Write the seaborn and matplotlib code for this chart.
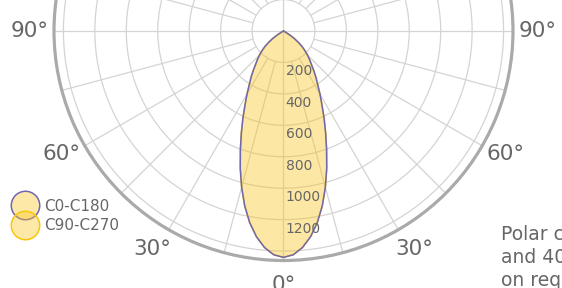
import numpy as np
import pandas as pd
import matplotlib
matplotlib.use("Agg")
import matplotlib.pyplot as plt
from matplotlib.lines import Line2D
import seaborn as sns

# ========== Data ==========
# gamma angle (deg from nadir) and luminous intensity (cd)
gamma = [0, 2.5, 5, 7.5, 10, 12.5, 15, 17.5, 20, 22.5, 25, 27.5, 30, 32.5, 35, 37.5,
         40, 42.5, 45, 47.5, 50, 52.5, 55, 57.5, 60, 62.5, 65, 70, 75, 80, 85, 90]
c0_c180 = [1440, 1425, 1383, 1320, 1238, 1140, 1029, 915, 802, 700, 611, 530, 465, 405,
           360, 315, 275, 245, 215, 185, 155, 120, 85, 50, 15, 0, 0, 0, 0, 0, 0, 0]
c90_c270 = [1440, 1425, 1383, 1320, 1238, 1140, 1029, 915, 802, 700, 611, 530, 465, 405,
            360, 315, 275, 245, 215, 185, 155, 120, 85, 50, 15, 0, 0, 0, 0, 0, 0, 0]
series_names = ["C0-C180", "C90-C270"]
ring_values = [200, 400, 600, 800, 1000, 1200, 1400]
angle_labels = [0, 30, 60, 90]
note_lines = ["Polar c", "and 40", "on req"]

# ========== Style ==========
sns.set_style("white")
plt.rcParams["font.family"] = ["DejaVu Sans"]

edge_colors = {"C0-C180": "#7167b1", "C90-C270": "#f7c70c"}
fill_rgb = (0.99, 0.77, 0.10)
grid_col = "#d4d4d4"
text_col = "#666666"
r_max = 1460

# ========== Build table ==========
rows = []
for name, vals in zip(series_names, [c0_c180, c90_c270]):
    g = np.array(gamma, dtype=float)
    v = np.array(vals, dtype=float)
    # left half (C180 / C270) then right half (C0 / C90)
    th = np.concatenate([-g[::-1], g[1:]])
    rr = np.concatenate([v[::-1], v[1:]])
    for t, r in zip(th, rr):
        rows.append({"series": name, "theta": np.deg2rad(t), "r": r})
df = pd.DataFrame(rows)

# ========== Plot ==========
fig = plt.figure(figsize=(5.62, 2.88), dpi=100)
ax = fig.add_axes([0.09609, 0.09549, 0.8167, 1.59375], projection="polar")
ax.set_theta_zero_location("S")
ax.set_theta_direction(1)
ax.set_ylim(0, r_max)

# rings
ax.set_yticks(ring_values)
ax.set_yticklabels([])
ax.set_xticks([])
ax.yaxis.grid(True, color=grid_col, lw=0.9)
ax.xaxis.grid(False)
ax.spines["polar"].set_color("#aaaaaa")
ax.spines["polar"].set_linewidth(2.3)

# spokes every 15 deg, starting at the first ring except the main axes
for a in range(0, 360, 15):
    start = 0 if a % 90 == 0 else ring_values[0]
    ax.plot([np.deg2rad(a)] * 2, [start, r_max], color=grid_col, lw=0.9, zorder=1)

# curves: C90-C270 underneath, C0-C180 on top
for name in series_names[::-1]:
    sub = df[df["series"] == name]
    ax.fill(sub["theta"], sub["r"], color=fill_rgb, alpha=0.22, lw=0, zorder=2)
sns.lineplot(data=df[df["series"] == series_names[1]], x="theta", y="r",
             color=edge_colors[series_names[1]], sort=False, estimator=None,
             lw=1.1, ax=ax, zorder=3)
sns.lineplot(data=df[df["series"] == series_names[0]], x="theta", y="r",
             color=edge_colors[series_names[0]], sort=False, estimator=None,
             lw=1.1, ax=ax, zorder=4)
ax.set_xlabel("")
ax.set_ylabel("")

# radial value labels
for v in ring_values[:-1]:
    ax.annotate(str(v), xy=(0, v), xytext=(1.6, -1.4), textcoords="offset points",
                ha="left", va="top", fontsize=10, color=text_col, zorder=5)

# angle labels around the rim
for a in angle_labels:
    for sgn in ([1] if a == 0 else [-1, 1]):
        ax.text(np.deg2rad(sgn * (a + (1 if 0 < a < 90 else 0))), 1616, f"{a}°",
                ha="center", va="center", fontsize=15.5, color=text_col, clip_on=False)

# legend
handles = [
    Line2D([], [], ls="none", marker="o", ms=20.5, mfc=(*fill_rgb, 0.38),
           mec=edge_colors[n], mew=1.1)
    for n in series_names
]
leg = fig.legend(handles, series_names, loc="center left",
                 bbox_to_anchor=(10 / 562, 1 - 216 / 288), frameon=False,
                 fontsize=11, labelcolor=text_col, handlelength=1.0,
                 handletextpad=0.75, labelspacing=0.32, borderpad=0)

# side note (only the part visible in the picture)
for i, line in enumerate(note_lines):
    fig.text(501 / 562, (288 - 240 - 23 * i) / 288, line, fontsize=13.5,
             color="#666666", ha="left", va="baseline")

fig.savefig("out.png", dpi=100)
